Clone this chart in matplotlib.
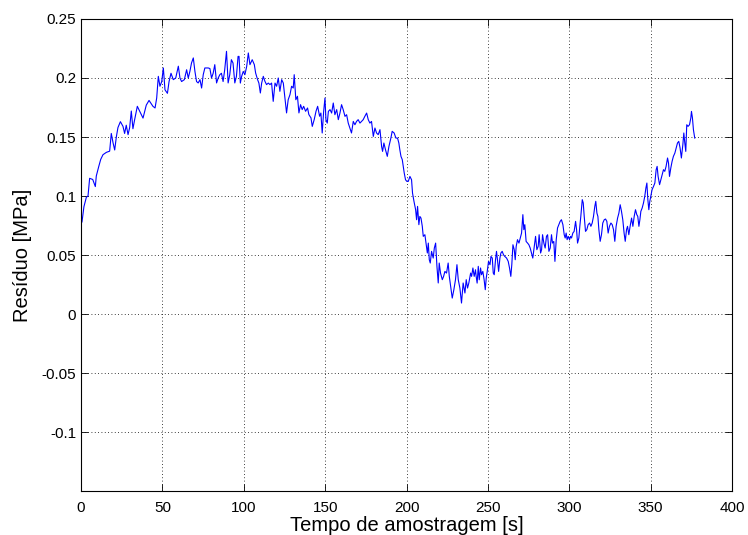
import matplotlib.pyplot as plt
import numpy as np

# residual readings (time in s, residual in MPa)
tempo = [
    0.6, 1.8, 3.3, 4.3, 5.3, 7.2, 8.8, 9.4, 10.9, 12.1, 13.5, 15.6, 17.6, 18.6, 19.7,
    20.7, 21.7, 22.7, 24.2, 25.8, 26.8, 27.8, 28.9, 29.9, 30.9, 31.9, 33.0, 34.6, 36.0,
    38.1, 40.1, 41.8, 44.2,
    45.5, 46.5, 47.5, 48.5, 49.6, 50.6, 51.6, 53.1, 54.1, 55.3, 56.7, 58.2, 59.8, 60.8,
    61.8, 63.5, 64.9, 65.9, 66.9, 67.9, 69.0, 70.0, 71.0, 72.0, 73.1, 74.1, 75.1, 76.1,
    78.2, 79.2, 80.2, 81.2, 82.2, 83.3, 84.3, 85.3, 86.3, 87.3, 88.3, 89.4, 90.4, 91.4,
    92.4, 93.4, 94.5, 95.5, 96.5,
    97.1, 97.9, 98.7, 99.7, 100.7, 101.8, 102.8, 103.8, 105.2, 106.5, 107.3, 108.5,
    109.3, 110.2, 111.0, 112.0, 113.0, 114.0, 115.1, 116.1, 117.1, 118.1, 119.2, 120.2,
    121.2, 122.2, 123.3, 124.3, 125.3, 126.3, 127.3, 128.4, 129.4, 130.4, 131.0, 132.0,
    133.0, 133.9, 134.9, 135.9, 136.8, 138.0, 139.2, 140.0, 141.3, 142.1, 143.3, 144.4,
    145.4, 146.6,
    147.4, 148.2, 149.1, 149.9, 150.5, 151.3, 152.0, 153.0, 154.0, 155.0, 156.0, 157.1,
    158.1, 159.1, 160.1, 161.1, 162.2, 163.2, 164.2, 165.2, 166.2, 167.3, 168.3, 169.3,
    170.3, 171.4, 172.4, 173.4, 174.4, 175.5, 176.5, 177.5, 178.5, 179.6, 180.6, 181.6,
    182.6, 183.7, 184.7, 185.3, 186.1, 187.1, 188.2, 189.2, 190.4, 191.2, 192.4, 193.5,
    194.5,
    195.3, 195.9, 196.6, 197.4, 198.0, 198.6, 199.4, 200.2, 201.1, 202.1, 203.1, 203.7,
    204.6, 205.6, 206.2, 206.8, 207.6, 208.2, 208.9, 209.7, 210.3, 211.3, 212.0, 212.8,
    213.4, 214.0, 214.6, 215.4, 216.4, 217.1, 217.9, 218.7, 219.5, 220.1, 220.9, 222.0,
    222.8, 223.6, 224.6, 225.6, 226.3, 227.1, 228.1, 229.1, 230.1, 231.0, 231.8, 232.8,
    233.8, 234.8, 235.9, 236.7, 237.5, 238.3, 239.4, 240.0, 240.8, 241.6, 242.4,
    242.8, 243.4, 244.1, 244.7, 245.5, 246.1, 246.9, 247.7, 248.4, 249.0, 249.6, 250.4,
    251.3, 251.9, 252.7, 253.3, 253.9, 254.7, 255.3, 256.0, 256.6, 257.4, 258.0, 258.8,
    259.6, 260.4, 261.5, 262.5, 263.3, 264.1, 264.7, 265.4, 266.2, 266.8, 267.4, 268.2,
    269.1, 269.9, 270.7, 271.5, 272.1, 272.7, 273.5, 274.4, 275.2, 276.0, 276.8, 277.6,
    278.4, 279.3, 280.1, 280.9, 281.5, 282.4, 283.0, 283.6, 284.4, 285.2, 286.0, 286.7,
    287.5, 288.3, 289.1, 289.7, 290.5,
    291.2, 292.0, 292.8, 293.6, 294.4, 295.2, 296.1, 296.9, 297.5, 298.1, 298.7, 299.4,
    300.2, 300.8, 301.4, 302.2, 303.0, 303.9, 304.5, 305.1, 305.9, 306.5, 307.1, 308.0,
    308.6, 309.2, 310.0, 310.8, 311.6, 312.5, 313.3, 314.1, 314.9, 315.7, 316.3, 317.0,
    317.6, 318.2, 319.0, 319.8, 320.6, 321.5, 322.3, 323.1, 323.9, 324.7, 325.6, 326.4,
    327.2, 328.0, 328.8, 329.7, 330.5, 331.3, 332.1, 332.9, 333.7, 334.4, 335.2, 335.8,
    336.6, 337.4, 338.3, 339.1, 339.9, 340.7,
    341.5, 342.1, 342.8, 343.4, 344.0, 344.8, 345.6, 346.4, 347.1, 347.7, 348.3, 348.9,
    349.5, 350.1, 350.9, 351.8, 352.6, 353.4, 354.0, 354.6, 355.5, 356.3, 357.1, 357.9,
    358.7, 359.5, 360.4, 361.0, 361.6, 362.4, 363.2, 364.0, 364.9, 365.7, 366.5, 367.3,
    368.1, 368.9, 369.8, 370.4, 371.0, 371.6, 372.2, 373.0, 373.9, 374.7, 375.1, 375.7,
    376.3, 377.1,
]
residuo = [
    0.078, 0.091, 0.099, 0.100, 0.115, 0.114, 0.108, 0.117, 0.125, 0.131, 0.135, 0.137,
    0.138, 0.153, 0.145, 0.139, 0.150, 0.158, 0.163, 0.159, 0.153, 0.160, 0.152, 0.158,
    0.172, 0.157, 0.165, 0.176, 0.172, 0.166, 0.177, 0.181, 0.176,
    0.1746, 0.183, 0.2014, 0.193, 0.197, 0.2085, 0.190, 0.187, 0.197, 0.204, 0.1986,
    0.200, 0.210, 0.200, 0.197, 0.1986, 0.207, 0.200, 0.2056, 0.2127, 0.217, 0.2056,
    0.197, 0.1958, 0.1986, 0.1915, 0.2028, 0.2085, 0.2085, 0.208, 0.200, 0.204, 0.2113,
    0.1958, 0.200, 0.2028, 0.204, 0.197, 0.207, 0.2226, 0.1958, 0.2028, 0.2155, 0.2127,
    0.1958, 0.2014, 0.2183,
    0.2183, 0.1957, 0.2014, 0.2056, 0.2028, 0.2098, 0.2212, 0.2113, 0.2155, 0.2113,
    0.2042, 0.1986, 0.1957, 0.1873, 0.1957, 0.2014, 0.1972, 0.1944, 0.1957, 0.1944,
    0.1957, 0.1802, 0.1957, 0.193, 0.2, 0.1887, 0.1986, 0.1957, 0.183, 0.1704, 0.1816,
    0.1859, 0.193, 0.1915, 0.2028, 0.1816, 0.1845, 0.1704, 0.1774, 0.1732, 0.176,
    0.1718, 0.1746, 0.169, 0.1662, 0.159, 0.1648, 0.1718, 0.176, 0.1676,
    0.1703, 0.1534, 0.1717, 0.183, 0.1647, 0.1618, 0.1717, 0.1732, 0.1703, 0.1788,
    0.1689, 0.1732, 0.1647, 0.1703, 0.1774, 0.1732, 0.1675, 0.1689, 0.1618, 0.1576,
    0.1534, 0.1632, 0.1604, 0.1632, 0.1647, 0.1618, 0.1632, 0.1647, 0.1675, 0.1703,
    0.1647, 0.1618, 0.1632, 0.1505, 0.1576, 0.1534, 0.1520, 0.1562, 0.1420, 0.1378,
    0.1449, 0.1392, 0.1336, 0.1420, 0.1491, 0.1548, 0.1534, 0.1491, 0.1491,
    0.1449, 0.1392, 0.1336, 0.1308, 0.1251, 0.1195, 0.1138, 0.1124, 0.1124, 0.1166,
    0.1138, 0.1025, 0.0954, 0.0884, 0.0799, 0.0912, 0.0757, 0.0827, 0.0813, 0.0743,
    0.0658, 0.0672, 0.0601, 0.0517, 0.0601, 0.0460, 0.0432, 0.0531, 0.0474, 0.0559,
    0.0601, 0.0404, 0.0263, 0.0432, 0.0347, 0.0291, 0.0319, 0.0361, 0.0347, 0.0432,
    0.0319, 0.0234, 0.0135, 0.0206, 0.0291, 0.0418, 0.0291, 0.0220, 0.0093, 0.0263,
    0.0178, 0.0291, 0.0220, 0.0263, 0.0347, 0.0319, 0.0390, 0.0319, 0.0375,
    0.0319, 0.0262, 0.0404, 0.0290, 0.0390, 0.0333, 0.0361, 0.0290, 0.0206, 0.0305,
    0.0361, 0.0446, 0.0418, 0.0488, 0.0474, 0.0347, 0.0333, 0.0460, 0.0531, 0.0446,
    0.0361, 0.0474, 0.0517, 0.0531, 0.0502, 0.0488, 0.0474, 0.0446, 0.0390, 0.0319,
    0.0418, 0.0587, 0.0545, 0.0460, 0.0573, 0.0630, 0.0601, 0.0644, 0.0686, 0.0842,
    0.0715, 0.0757, 0.0615, 0.0601, 0.0587, 0.0559, 0.0517, 0.0474, 0.0559, 0.0658,
    0.0545, 0.0573, 0.0672, 0.0517, 0.0545, 0.0672, 0.0601, 0.0559, 0.0658, 0.0672,
    0.0531, 0.0559, 0.0672, 0.0601, 0.0615,
    0.0446, 0.0630, 0.0729, 0.0757, 0.0785, 0.0799, 0.0757, 0.0672, 0.0644, 0.0686,
    0.0630, 0.0658, 0.0630, 0.0658, 0.0644, 0.0686, 0.0700, 0.0785, 0.0715, 0.0601,
    0.0644, 0.0743, 0.0827, 0.0969, 0.0941, 0.0827, 0.0700, 0.0715, 0.0757, 0.0771,
    0.0743, 0.0771, 0.0827, 0.0912, 0.0955, 0.0855, 0.0827, 0.0715, 0.0616, 0.0672,
    0.0771, 0.0799, 0.0805, 0.0785, 0.0686, 0.0743, 0.0771, 0.0757, 0.0715, 0.0616,
    0.0743, 0.0813, 0.0855, 0.0926, 0.0870, 0.0799, 0.0686, 0.0616, 0.0715, 0.0743,
    0.0672, 0.0743, 0.0813, 0.0743, 0.0827, 0.0884,
    0.0842, 0.0828, 0.0743, 0.0799, 0.0870, 0.0898, 0.0940, 0.0997, 0.1068, 0.1110,
    0.0969, 0.0884, 0.0955, 0.0997, 0.1054, 0.1082, 0.1110, 0.1223, 0.1251, 0.1166,
    0.1096, 0.1138, 0.1181, 0.1223, 0.1209, 0.1251, 0.1322, 0.1279, 0.1166, 0.1237,
    0.1294, 0.1336, 0.1364, 0.1407, 0.1449, 0.1463, 0.1407, 0.1322, 0.1435, 0.1534,
    0.1449, 0.1378, 0.1604, 0.1590, 0.1604, 0.1661, 0.1717, 0.1661, 0.1562, 0.1491,
]

x_ticks = np.arange(0, 401, 50)
y_ticks = [-0.1, -0.05, 0, 0.05, 0.1, 0.15, 0.2, 0.25]
y_labels = ["-0.1", "-0.05", "0", "0.05", "0.1", "0.15", "0.2", "0.25"]

plt.rcParams['font.family'] = ['Liberation Sans', 'DejaVu Sans']
plt.rcParams['font.size'] = 11

fig = plt.figure(figsize=(7.48, 5.35), dpi=100)
ax = fig.add_axes([0.1083, 0.0822, 0.8703, 0.8823])
ax.plot(tempo, residuo, color=(0, 0, 1), linewidth=0.8)

ax.set_xlim(0, 400)
ax.set_ylim(-0.15, 0.25)
ax.set_xticks(x_ticks)
ax.set_yticks(y_ticks)
ax.set_yticklabels(y_labels)
ax.tick_params(direction='in', length=5, width=0.6, top=True, right=True, colors='black')
ax.tick_params(axis='x', pad=7)
ax.grid(True, linestyle=(0, (1, 3)), color='black', linewidth=0.6)
for s in ax.spines.values():
    s.set_linewidth(0.8)

ax.set_xlabel("Tempo de amostragem [s]", fontsize=14.5, labelpad=1)
ax.set_ylabel("Resíduo [MPa]", fontsize=14.5, labelpad=7)

fig.savefig("out.png", dpi=100)
